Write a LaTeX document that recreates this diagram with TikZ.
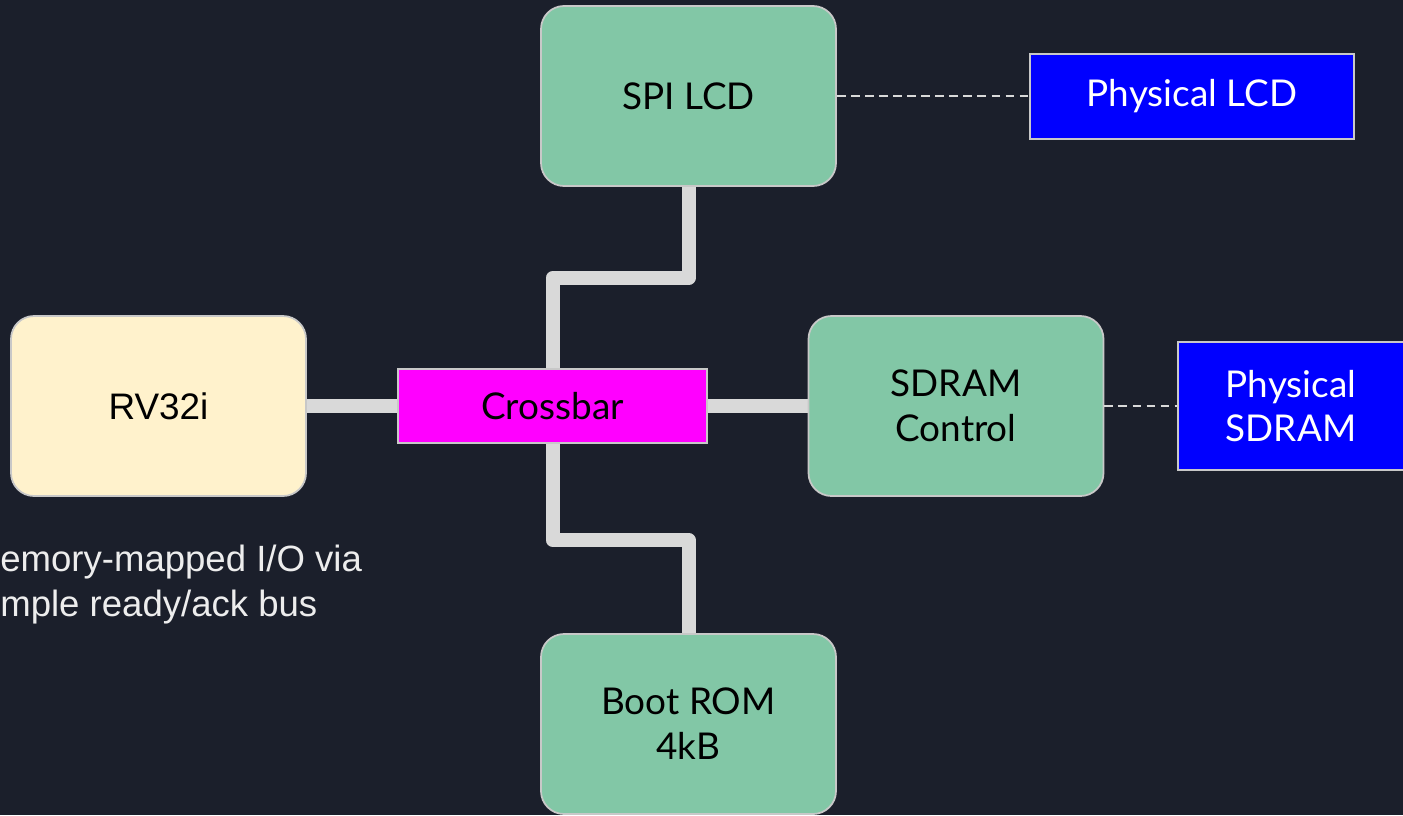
\documentclass[tikz,border=0pt]{standalone}
\usepackage{fontspec}
\setmainfont{Lato}
\newfontfamily\arialfont{Liberation Sans}
\usepackage{tikz}
\usetikzlibrary{arrows.meta}

\definecolor{bgnavy}{HTML}{1B1F2B}
\definecolor{blockgreen}{HTML}{82C7A6}
\definecolor{cpucream}{HTML}{FFF2CC}
\definecolor{xbarpink}{HTML}{FF00FF}
\definecolor{physblue}{HTML}{0000FF}
\definecolor{busgray}{HTML}{D9D9D9}
\definecolor{edgegray}{HTML}{C8C8C8}

\begin{document}
\begin{tikzpicture}[
    block/.style={draw=edgegray,line width=1pt,rounded corners=0.46cm,fill=blockgreen,
        minimum width=5.9cm,minimum height=3.6cm,align=center,
        font=\fontsize{21}{25.5}\selectfont},
    cpubox/.style={block,fill=cpucream,font=\arialfont\fontsize{21}{25.5}\selectfont},
    xbarbox/.style={draw=edgegray,line width=1pt,fill=xbarpink,minimum width=6.18cm,
        minimum height=1.48cm,font=\fontsize{21}{25.5}\selectfont},
    physbox/.style={draw=edgegray,line width=1pt,fill=physblue,text=white,align=center,
        font=\fontsize{21}{25}\selectfont},
    bus/.style={draw=busgray,line width=0.28cm,line join=round},
    link/.style={draw=busgray,line width=0.8pt,dash pattern=on 5pt off 3pt}]
    \useasboundingbox (0,0) rectangle (28.06,-16.3);
    \fill[bgnavy] (0,0) rectangle (28.06,-16.3);
    % connectors go first so the boxes sit on top
    \coordinate (spiC) at (13.77,-1.92);
    \coordinate (romC) at (13.77,-14.48);
    \coordinate (xbarC) at (11.05,-8.12);
    \coordinate (cpuC) at (3.17,-8.12);
    \coordinate (sdramC) at (19.12,-8.12);
    \path[bus] (spiC) -- ++(0,-3.64) -| (xbarC);
    \path[bus] (xbarC) -- ++(0,-2.68) -| (romC);
    \path[bus] (cpuC) -- (sdramC);
    \node[block] (spi) at (spiC) {SPI LCD};
    \node[block] (rom) at (romC) {Boot ROM\\4kB};
    \node[block] (sdram) at (sdramC) {SDRAM\\Control};
    \node[cpubox] (cpu) at (cpuC) {RV32i};
    \node[xbarbox] (xbar) at (xbarC) {Crossbar};
    \node[physbox,minimum width=6.48cm,minimum height=1.7cm] (plcd) at (23.84,-1.93) {Physical LCD};
    \node[physbox,minimum width=4.52cm,minimum height=2.56cm] (psdram) at (25.82,-8.12) {Physical\\SDRAM};
    \draw[link] (spi.east) -- (spi.east -| plcd.west);
    \draw[link] (sdram.east) -- (psdram.west);
    \node[anchor=north west,align=left,inner sep=0pt,text=white!93!black,
        font=\arialfont\fontsize{20.8}{25.6}\selectfont] (note) at (0,-10.9)
        {emory-mapped I/O via\\mple ready/ack bus};
\end{tikzpicture}
\end{document}
